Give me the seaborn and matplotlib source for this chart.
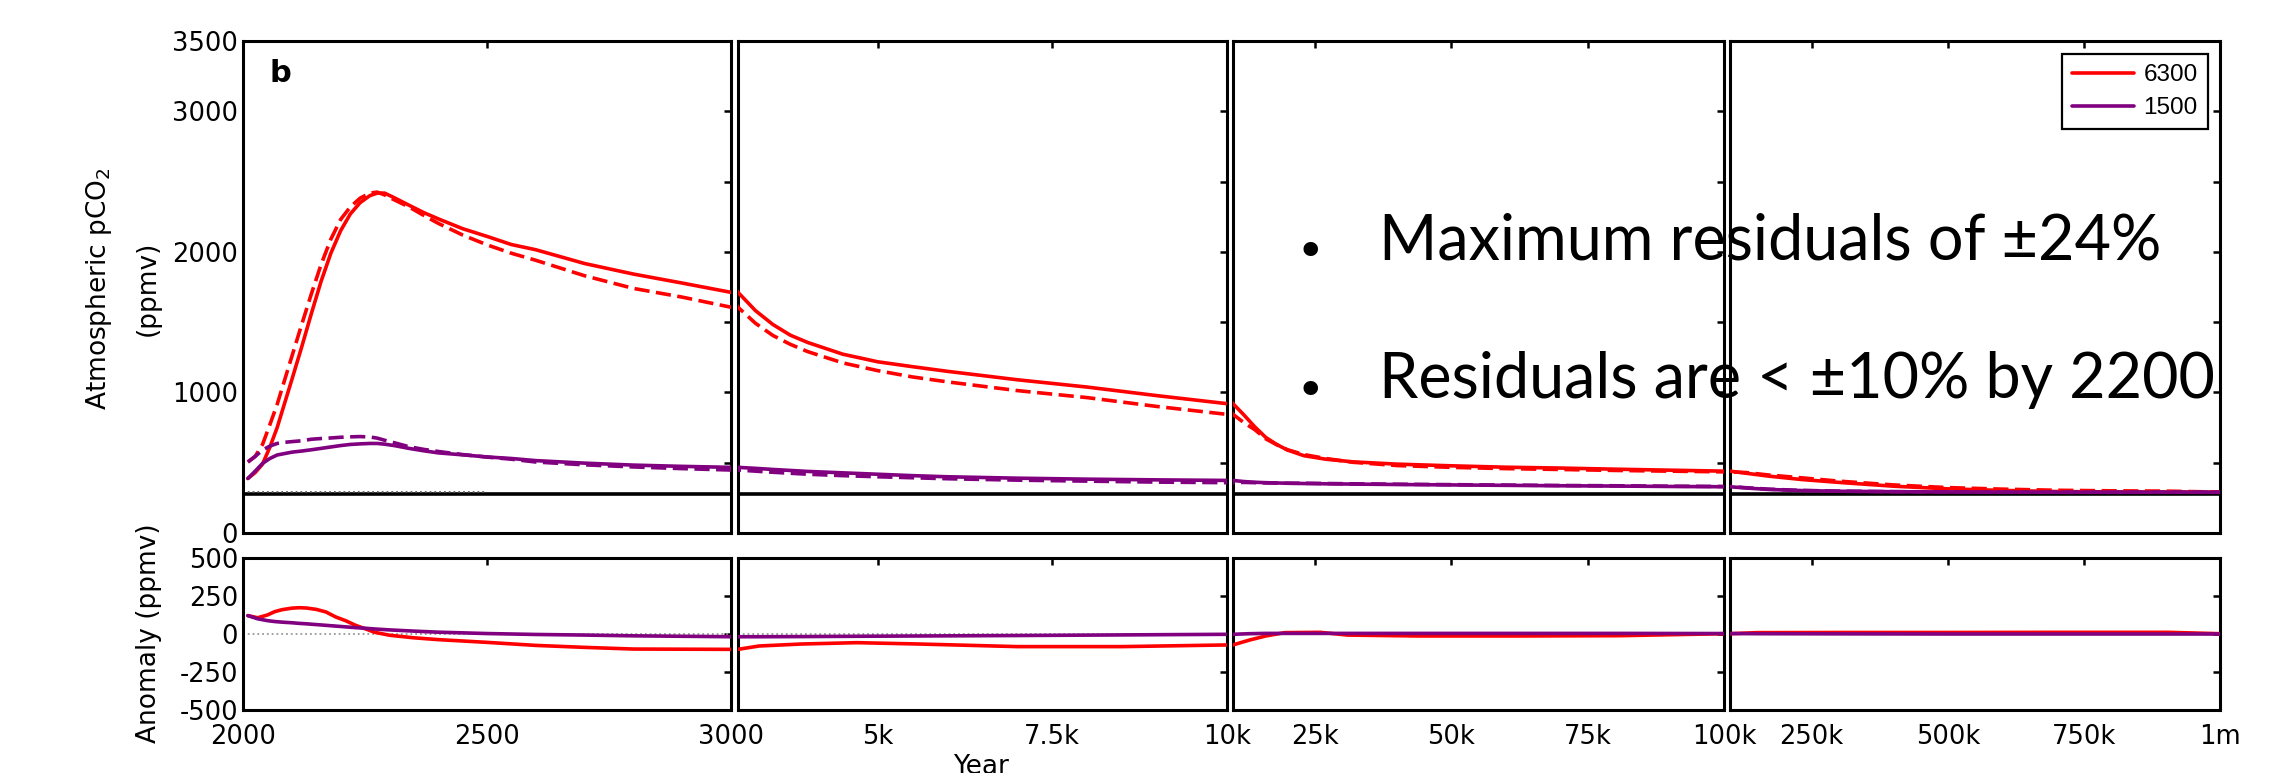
import matplotlib
matplotlib.use("Agg")
import matplotlib.pyplot as plt
from matplotlib.lines import Line2D
import pandas as pd
import seaborn as sns

# ---------------------------------------------------------------------------
# Data
# ---------------------------------------------------------------------------

top_years = [
    2010, 2025, 2040, 2055, 2070, 2085, 2100, 2120, 2140, 2160,
    2180, 2200, 2220, 2240, 2260, 2275, 2290, 2310, 2340, 2370,
    2400, 2450, 2500, 2550, 2600, 2700, 2800, 2900, 3000, 3250,
    3500, 3750, 4000, 4500, 5000, 5500, 6000, 7000, 8000, 9000,
    10000, 12000, 14000, 16000, 18000, 20000, 23000, 27000, 32000, 40000,
    50000, 60000, 70000, 80000, 90000, 100000, 130000, 170000, 230000, 300000,
    400000, 500000, 600000, 700000, 800000, 900000, 1000000,
]
pco2_6300_model = [
    388, 430, 490, 610, 750, 920, 1090, 1320, 1560, 1790,
    1990, 2150, 2270, 2350, 2400, 2418, 2418, 2385, 2332, 2280,
    2235, 2165, 2110, 2052, 2015, 1917, 1842, 1778, 1712, 1582,
    1483, 1407, 1355, 1272, 1218, 1183, 1150, 1090, 1038, 977,
    920, 840, 755, 680, 630, 590, 550, 525, 506, 490,
    478, 468, 462, 454, 447, 440, 425, 405, 381, 360,
    333, 314, 303, 295, 292, 291, 290,
]
pco2_6300_emul = [
    505, 545, 630, 770, 915, 1085, 1255, 1480, 1700, 1910,
    2090, 2230, 2320, 2382, 2418, 2425, 2405, 2370, 2320, 2260,
    2203, 2120, 2050, 1990, 1940, 1830, 1740, 1678, 1606, 1492,
    1405, 1342, 1290, 1210, 1155, 1110, 1075, 1013, 963, 900,
    844, 785, 735, 670, 628, 592, 558, 530, 503, 480,
    467, 458, 452, 445, 440, 435, 430, 413, 393, 369,
    342, 323, 312, 304, 300, 298, 291,
]
pco2_1500_model = [
    388, 440, 495, 530, 555, 565, 575, 583, 592, 602,
    612, 622, 630, 634, 637, 637, 632, 622, 602, 585,
    570, 556, 541, 530, 515, 497, 483, 474, 467, 460,
    452, 445, 438, 428, 418, 408, 400, 390, 383, 378,
    374, 366, 361, 358, 356, 354, 352, 350, 348, 345,
    342, 339, 336, 334, 331, 329, 320, 310, 302, 297,
    294, 292, 291, 290, 290, 290, 290,
]
pco2_1500_emul = [
    505, 545, 590, 618, 637, 645, 650, 656, 667, 672,
    676, 681, 684, 686, 683, 675, 660, 642, 614, 595,
    580, 558, 540, 525, 505, 485, 470, 458, 448, 440,
    432, 425, 418, 408, 400, 393, 386, 376, 369, 362,
    358, 360, 358, 356, 355, 354, 354, 352, 350, 347,
    344, 341, 338, 336, 333, 331, 322, 312, 303, 298,
    294, 292, 291, 290, 290, 290, 290,
]

anom_years = [
    2010, 2030, 2050, 2065, 2080, 2100, 2115, 2130, 2150, 2170,
    2190, 2210, 2230, 2250, 2270, 2300, 2350, 2400, 2500, 2600,
    2700, 2800, 2900, 3000, 3300, 3900, 4700, 5600, 7000, 8500,
    10000, 13000, 16000, 19500, 26000, 31000, 44000, 62000, 81000, 100000,
    150000, 300000, 500000, 700000, 905000, 1000000,
]
anom_6300 = [
    121, 107, 125, 147, 160, 170, 173, 171, 162, 145,
    112, 88, 58, 35, 11, -8, -25, -37, -55, -75,
    -88, -99, -100, -101, -79, -66, -57, -66, -83, -83,
    -72, -40, -13, 9, 11, -7, -13, -13, -11, 2,
    9, 10, 10, 11, 11, 2,
]
anom_1500 = [
    121, 100, 88, 82, 78, 74, 70, 67, 62, 57,
    52, 47, 42, 38, 33, 27, 19, 12, 3, -3,
    -7, -12, -15, -18, -18, -17, -15, -13, -10, -6,
    -2, 2, 4, 4, 4, 4, 4, 4, 4, 3,
    2, 1, 0, 0, 0, 0,
]

preindustrial = 280
dotted_ref_level = 290
dotted_ref_span = [2000, 2500]

scenarios = ["6300", "1500"]
scenario_colors = {"6300": "#ff0000", "1500": "#800080"}

panel_limits = [(2000, 3000), (3000, 10000), (10000, 100000), (100000, 1000000)]
panel_ticks = [
    [2000, 2500, 3000],
    [3000, 5000, 7500, 10000],
    [10000, 25000, 50000, 75000, 100000],
    [100000, 250000, 500000, 750000, 1000000],
]
panel_ticklabels = [
    ["2000", "2500", "3000"],
    ["", "5k", "7.5k", "10k"],
    ["", "25k", "50k", "75k", "100k"],
    ["", "250k", "500k", "750k", "1m"],
]
top_yticks = [0, 500, 1000, 1500, 2000, 2500, 3000, 3500]
top_yticklabels = ["0", "", "1000", "", "2000", "", "3000", "3500"]
anom_yticks = [-500, -250, 0, 250, 500]
anom_yticklabels = ["-500", "-250", "0", "250", "500"]

bullets = ["Maximum residuals of \u00b124%", "Residuals are < \u00b110% by 2200"]

# ---------------------------------------------------------------------------
# Long-format tables for seaborn
# ---------------------------------------------------------------------------

top_df = pd.concat([
    pd.DataFrame({"year": top_years, "pco2": vals, "scenario": scen, "kind": kind})
    for scen, kind, vals in [
        ("6300", "model", pco2_6300_model),
        ("6300", "emulator", pco2_6300_emul),
        ("1500", "model", pco2_1500_model),
        ("1500", "emulator", pco2_1500_emul),
    ]
], ignore_index=True)

anom_df = pd.concat([
    pd.DataFrame({"year": anom_years, "anomaly": vals, "scenario": scen})
    for scen, vals in [("6300", anom_6300), ("1500", anom_1500)]
], ignore_index=True)

# ---------------------------------------------------------------------------
# Figure
# ---------------------------------------------------------------------------

sns.set_style("white")
plt.rcParams["font.family"] = ["DejaVu Sans"]
for key in ("axes.edgecolor", "text.color", "axes.labelcolor", "xtick.color", "ytick.color"):
    plt.rcParams[key] = "black"

W, H = 2284, 773
fig = plt.figure(figsize=(W / 100, H / 100), dpi=100)


def rect(x0, x1, y0, y1):
    """Pixel box (top-left origin) -> figure fraction rect."""
    return [x0 / W, 1 - y1 / H, (x1 - x0) / W, (y1 - y0) / H]


panel_x = [(243, 731), (738, 1227), (1233, 1724), (1730, 2220)]
top_y = (41, 533)
bot_y = (558, 710)

LW = 2.6
TICK_FS = 18.5


def style_axes(ax, i, bottom_row):
    for s in ax.spines.values():
        s.set_linewidth(2.2)
        s.set_color("black")
    ax.set_xlim(*panel_limits[i])
    ax.set_xticks(panel_ticks[i])
    ax.tick_params(direction="in", top=True, right=True, length=5, width=1.8,
                   labelsize=TICK_FS, pad=3.5)
    ax.tick_params(axis="x", pad=10)
    if bottom_row:
        ax.set_xticklabels(panel_ticklabels[i])
    else:
        ax.set_xticklabels([])
    ax.set_xlabel("")
    ax.set_ylabel("")


for i, (x0, x1) in enumerate(panel_x):
    ax = fig.add_axes(rect(x0, x1, *top_y))
    ax.axhline(preindustrial, color="black", lw=2.6, zorder=1)
    if i == 0:
        ax.hlines(dotted_ref_level, *dotted_ref_span, colors="0.35", linestyles=":", lw=1.3, zorder=1)
    sns.lineplot(
        data=top_df, x="year", y="pco2", hue="scenario", style="kind",
        hue_order=scenarios, style_order=["model", "emulator"],
        palette=scenario_colors, dashes={"model": "", "emulator": (4.2, 1.8)},
        estimator=None, sort=False, lw=LW, legend=False, ax=ax, zorder=3,
    )
    ax.set_ylim(0, 3500)
    ax.set_yticks(top_yticks)
    ax.set_yticklabels(top_yticklabels if i == 0 else [])
    style_axes(ax, i, bottom_row=False)
    if i == 3:
        handles = [Line2D([], [], color=scenario_colors[s], lw=2.6, label=s) for s in scenarios]
        leg = ax.legend(
            handles=handles, loc="upper right",
            bbox_to_anchor=(2208 / W, 1 - 54 / H), bbox_transform=fig.transFigure,
            borderaxespad=0, frameon=True, fancybox=False,
            prop={"family": ["Liberation Sans", "DejaVu Sans"], "size": 17.5},
            handlelength=2.55, handletextpad=0.4, borderpad=0.42, labelspacing=0.45,
        )
        leg.get_frame().set_edgecolor("black")
        leg.get_frame().set_linewidth(1.6)
        leg.get_frame().set_alpha(1)

    bx = fig.add_axes(rect(x0, x1, *bot_y))
    bx.axhline(0, color="0.6", ls=":", lw=1.3, zorder=1)
    sns.lineplot(
        data=anom_df, x="year", y="anomaly", hue="scenario",
        hue_order=scenarios, palette=scenario_colors,
        estimator=None, sort=False, lw=LW, legend=False, ax=bx, zorder=3,
    )
    bx.set_ylim(-500, 500)
    bx.set_yticks(anom_yticks)
    bx.set_yticklabels(anom_yticklabels if i == 0 else [])
    style_axes(bx, i, bottom_row=True)

# panel letter and axis titles
fig.text(269 / W, 1 - 82 / H, "b", fontsize=22, fontweight="bold", ha="left", va="baseline")
fig.text(99 / W, 1 - 289 / H, "Atmospheric pCO$_2$", rotation=90, ha="center", va="center", fontsize=19)
fig.text(148 / W, 1 - 288 / H, "(ppmv)", rotation=90, ha="center", va="center", fontsize=19)
fig.text(149 / W, 1 - 633 / H, "Anomaly (ppmv)", rotation=90, ha="center", va="center", fontsize=19)
fig.text(981 / W, 1 - 754 / H, "Year", ha="center", va="top", fontsize=19)

# slide bullet text
for k, line in enumerate(bullets):
    base = (259, 398)[k]
    fig.text(1310 / W, 1 - (base + 8) / H, "\u2022", fontsize=36, ha="center", va="baseline",
             family=["DejaVu Sans"])
    fig.text(1379 / W, 1 - base / H, line, fontsize=45.3, ha="left", va="baseline",
             family=["Lato", "DejaVu Sans"])

fig.savefig("out.png", dpi=100, facecolor="white")
